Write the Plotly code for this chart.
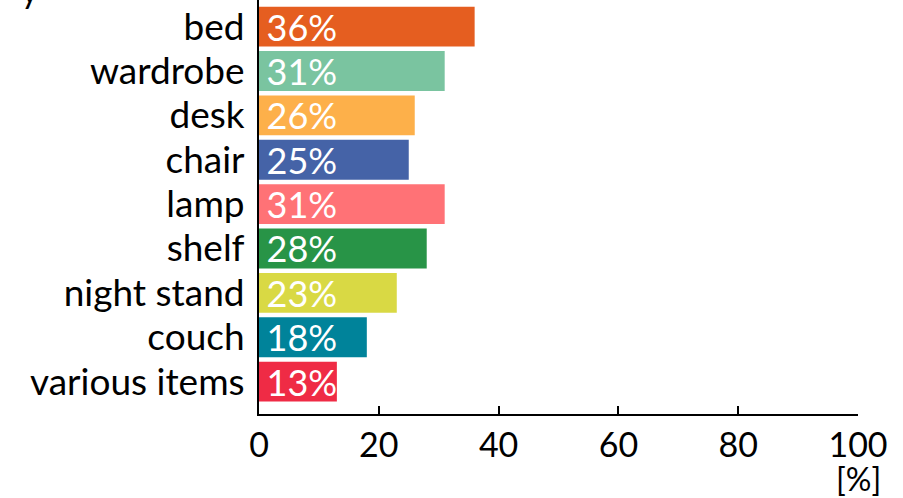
import plotly.graph_objects as go

# Share of respondents per furniture item
categories = ["bed", "wardrobe", "desk", "chair", "lamp", "shelf",
              "night stand", "couch", "various items"]
values = [36, 31, 26, 25, 31, 28, 23, 18, 13]
colors = ["#E55E20", "#7AC4A0", "#FDB04A", "#4563A7", "#FF7276",
          "#289447", "#D9D944", "#00839A", "#EF2B45"]
x_ticks = [0, 20, 40, 60, 80, 100]

FONT = "Lato"

fig = go.Figure(
    go.Bar(
        x=values,
        y=categories,
        orientation="h",
        marker=dict(color=colors, line=dict(width=0)),
        text=[f"\u2009{v}%" for v in values],
        textposition="inside",
        insidetextanchor="start",
        constraintext="none",
        textfont=dict(family=FONT, size=36, color="white"),
        hoverinfo="skip",
    )
)

fig.update_layout(
    width=903,
    height=498,
    margin=dict(l=259, r=45, t=0, b=84),
    paper_bgcolor="white",
    plot_bgcolor="white",
    bargap=0.1,
    showlegend=False,
    font=dict(family=FONT, size=34, color="black"),
)

fig.update_xaxes(
    range=[0, 100],
    tickvals=x_ticks,
    ticks="inside",
    ticklen=8,
    tickwidth=2,
    tickcolor="black",
    showline=True,
    linewidth=2,
    linecolor="black",
    showgrid=False,
    zeroline=False,
    tickfont=dict(family=FONT, size=34, color="black"),
)

fig.update_yaxes(
    categoryorder="array",
    categoryarray=categories,
    range=[8.73, -0.6],
    showline=True,
    linewidth=2,
    linecolor="black",
    showgrid=False,
    zeroline=False,
    ticks="",
    ticklabelstandoff=5,
    tickfont=dict(family=FONT, size=37, color="black"),
)

# unit label under the right end of the x axis
fig.add_annotation(
    text="[%]", x=1, y=0, xref="paper", yref="paper",
    xanchor="center", yanchor="top", yshift=-44, showarrow=False,
    borderpad=0,
    font=dict(family=FONT, size=32, color="black"),
)

# tail of the heading above the chart
fig.add_annotation(
    text="y", x=(30 - 259) / 599, y=1, xref="paper", yref="paper",
    xanchor="center", yanchor="bottom", yshift=-12, showarrow=False,
    font=dict(family=FONT, size=34, color="black"),
)

fig.write_html("out.html")
